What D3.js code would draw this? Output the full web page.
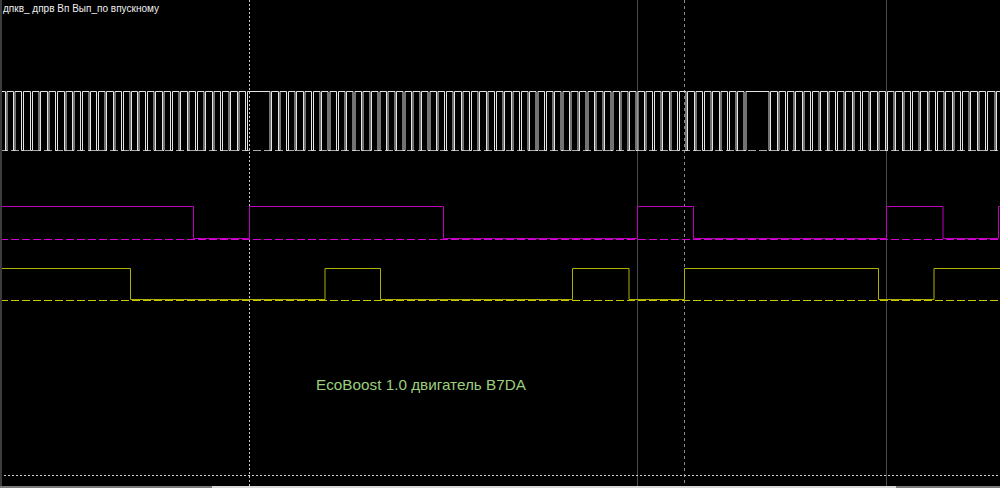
<!DOCTYPE html>
<html>
<head>
<meta charset="utf-8">
<script src="https://cdn.jsdelivr.net/npm/d3@7"></script>
<style>
  html, body { margin: 0; padding: 0; background: #000; overflow: hidden; }
  svg { display: block; }
</style>
</head>
<body>
<svg id="chart" width="1000" height="488"></svg>
<script>
// ---- DATA (time in ms, levels in volts-like units) ----
const titleText = "дпкв_ дпрв Вп Вып_по впускному";
const noteText = "EcoBoost 1.0 двигатель B7DA";

// crank (60-2 wheel) tooth falling edges, ms
const crankFalls = [
  0.53, 1.33, 2.17, 3.07, 3.90, 4.73, 5.57, 6.43, 7.23, 8.07,
  8.90, 9.67, 10.50, 11.33, 12.17, 13.00, 13.73, 14.57, 15.40, 16.23,
  17.07, 17.90, 18.73, 19.57, 20.40, 21.23, 22.07, 22.90, 23.73, 24.57,
  27.00, 27.83, 28.66, 29.50, 30.33, 31.16, 31.99, 32.82, 33.66, 34.49,
  35.32, 36.15, 36.98, 37.82, 38.65, 39.48, 40.31, 41.14, 41.98, 42.81,
  43.64, 44.47, 45.30, 46.14, 46.97, 47.80, 48.63, 49.46, 50.30, 51.13,
  51.96, 52.79, 53.62, 54.46, 55.29, 56.12, 56.95, 57.78, 58.62, 59.45,
  60.28, 61.11, 61.94, 62.78, 63.61, 64.44, 65.27, 66.10, 66.94, 67.77,
  68.60, 69.43, 70.26, 71.10, 71.93, 72.76, 73.59, 74.42,
  76.90, 77.73, 78.57, 79.40, 80.23, 81.07, 81.90, 82.73, 83.57, 84.40,
  85.23, 86.07, 86.90, 87.73, 88.57, 89.40, 90.23, 91.07, 91.90, 92.73,
  93.57, 94.40, 95.23, 96.07, 96.90, 97.73, 98.57, 99.50
];
const crankPulseWidth = 0.17;

// intake cam (magenta) edges, starting high
const camInStart = 1;
const camInEdges = [19.33, 24.97, 44.33, 63.73, 69.33, 88.63, 94.30, 99.87];

// exhaust cam (yellow) edges, starting high
const camExStart = 1;
const camExEdges = [13.07, 32.50, 38.03, 57.27, 62.90, 68.43, 87.87, 93.40];

// channel levels [low, high] and zero-line level
const crankLevels = [32.5, 38.4];
const crankZero = 32.5;
const camInLevels = [23.7, 26.9];
const camInZero = 23.6;
const camExLevels = [17.6, 20.75];
const camExZero = 17.5;

// cursors / markers (ms)
const dottedCursors = [24.9, 68.4];
const solidCursors = [63.7, 88.6];
const timeDomain = [0, 100];
const levelDomain = [0, 47.5];

// ---- DRAWING ----
const W = 1000, H = 488;
const svg = d3.select("#chart");
const x = d3.scaleLinear().domain(timeDomain).range([0, 1000]);
const y = d3.scaleLinear().domain(levelDomain).range([475, 0]);
const py = v => Math.round(y(v)) + 0.5;
const px = t => Math.round(x(t) * 2) / 2;

svg.append("rect").attr("width", W).attr("height", H).attr("fill", "#000");

const line = d3.line().x(d => px(d[0])).y(d => py(d[1]));

// grid / cursors
const g = svg.append("g");
g.selectAll(".sc").data(solidCursors).join("line")
  .attr("x1", d => Math.round(x(d)) + 0.5).attr("x2", d => Math.round(x(d)) + 0.5)
  .attr("y1", 0).attr("y2", 486)
  .attr("stroke", "#4a4a4a").attr("stroke-width", 1);
g.append("line")
  .attr("x1", Math.round(x(dottedCursors[0])) + 0.5).attr("x2", Math.round(x(dottedCursors[0])) + 0.5)
  .attr("y1", 0).attr("y2", 486)
  .attr("stroke", "#c8c8c8").attr("stroke-dasharray", "2,2");
g.append("line")
  .attr("x1", Math.round(x(dottedCursors[1])) + 0.5).attr("x2", Math.round(x(dottedCursors[1])) + 0.5)
  .attr("y1", 0).attr("y2", 486)
  .attr("stroke", "#8a8a8a").attr("stroke-dasharray", "3,3");
g.append("line")
  .attr("x1", 0).attr("x2", W).attr("y1", py(0)).attr("y2", py(0))
  .attr("stroke", "#d0d0d0").attr("stroke-dasharray", "2,2");

// channel baselines (dashed)
function baseline(level, color) {
  g.append("line")
    .attr("x1", 0).attr("x2", W)
    .attr("y1", py(level)).attr("y2", py(level))
    .attr("stroke", color).attr("stroke-dasharray", "8,3");
}
baseline(crankZero, "#a8a8a8");
baseline(camInZero, "#d400d4");
baseline(camExZero, "#c8c800");

// crank trace
const crankPts = [[timeDomain[0], crankLevels[1]]];
crankFalls.forEach(t => {
  crankPts.push([t, crankLevels[1]], [t, crankLevels[0]],
                [t + crankPulseWidth, crankLevels[0]], [t + crankPulseWidth, crankLevels[1]]);
});
crankPts.push([timeDomain[1], crankLevels[1]]);

function stepPts(start, edges, levels) {
  let s = start;
  const pts = [[timeDomain[0], levels[s]]];
  edges.forEach(t => { pts.push([t, levels[s]]); s = 1 - s; pts.push([t, levels[s]]); });
  pts.push([timeDomain[1], levels[s]]);
  return pts;
}

const traces = svg.append("g");
traces.append("path").datum(crankPts).attr("d", line)
  .attr("fill", "none").attr("stroke", "#e4e4e4").attr("stroke-width", 1);
traces.append("path").datum(stepPts(camInStart, camInEdges, camInLevels)).attr("d", line)
  .attr("fill", "none").attr("stroke", "#bc00bc").attr("stroke-width", 1);
traces.append("path").datum(stepPts(camExStart, camExEdges, camExLevels)).attr("d", line)
  .attr("fill", "none").attr("stroke", "#b0b000").attr("stroke-width", 1);

// frame edges / scrollbar
svg.append("rect").attr("x", 0).attr("y", 0).attr("width", 2).attr("height", H).attr("fill", "#3c3c3c");
svg.append("rect").attr("x", 0).attr("y", 486).attr("width", W).attr("height", 2).attr("fill", "#7a7a7a");
svg.append("rect").attr("x", 212).attr("y", 486).attr("width", 684).attr("height", 2).attr("fill", "#d8d8d8");

// texts
svg.append("text").attr("x", 3).attr("y", 12)
  .attr("font-family", "'Liberation Sans', Arial, sans-serif").attr("font-size", 11)
  .attr("textLength", 156).attr("lengthAdjust", "spacingAndGlyphs")
  .attr("fill", "#f0f0f0").text(titleText);
svg.append("text").attr("x", 316).attr("y", 390)
  .attr("font-family", "'Liberation Sans', Arial, sans-serif").attr("font-size", 15)
  .attr("textLength", 210).attr("lengthAdjust", "spacingAndGlyphs")
  .attr("fill", "#9ccf7c").text(noteText);
</script>
</body>
</html>
